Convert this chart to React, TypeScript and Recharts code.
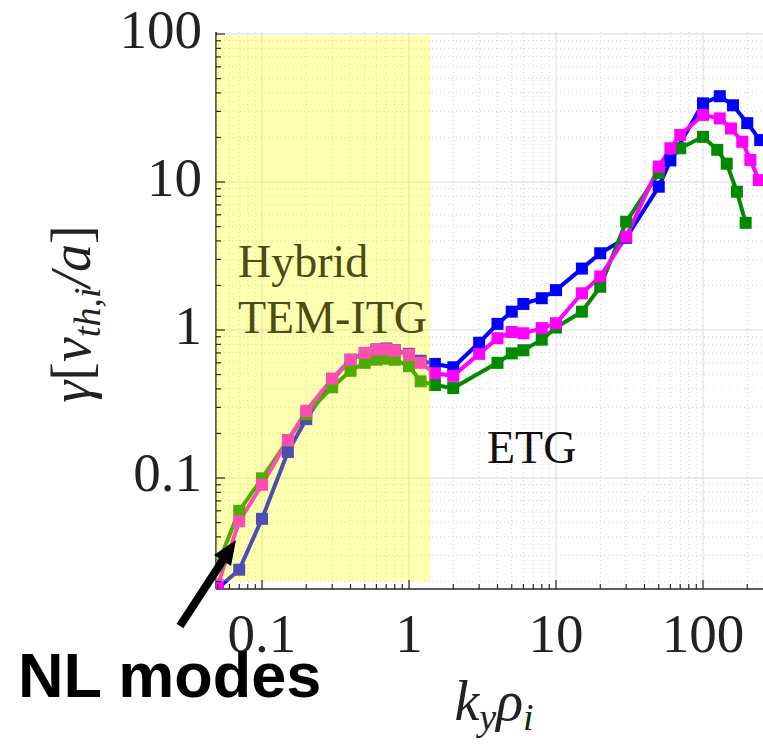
import React from 'react';
import { LineChart, Line, XAxis, YAxis, ReferenceArea, ReferenceLine } from 'recharts';

// growth rate spectra, three cases (blue / magenta / green)
const kBlue = [0.05, 0.07, 0.1, 0.15, 0.2, 0.3, 0.4, 0.5, 0.6, 0.7, 0.8, 1.0, 1.2, 1.5, 2, 3, 4, 5, 6, 8, 10, 15, 20, 30, 50, 60, 100, 130, 160, 200, 245];
const gammaBlue = [0.018, 0.024, 0.053, 0.15, 0.25, 0.46, 0.63, 0.7, 0.74, 0.75, 0.73, 0.69, 0.62, 0.59, 0.56, 0.82, 1.1, 1.33, 1.5, 1.64, 1.86, 2.6, 3.3, 4.2, 9.3, 14, 34, 38, 33, 25, 19.2];

const kPink = [0.05, 0.07, 0.1, 0.15, 0.2, 0.3, 0.4, 0.5, 0.6, 0.7, 0.8, 1.0, 1.2, 1.5, 2, 3, 4, 5, 6, 8, 10, 15, 20, 30, 50, 60, 70, 100, 130, 155, 185, 210, 240];
const gammaPink = [0.019, 0.051, 0.09, 0.18, 0.284, 0.47, 0.63, 0.7, 0.735, 0.74, 0.725, 0.68, 0.6, 0.51, 0.49, 0.69, 0.88, 0.97, 0.95, 1.03, 1.11, 1.77, 2.3, 4.27, 12.7, 16.9, 20.8, 28.4, 26.9, 23, 18.7, 14.1, 10.3];

const kGreen = [0.05, 0.07, 0.1, 0.15, 0.2, 0.3, 0.4, 0.5, 0.6, 0.7, 0.8, 1.0, 1.2, 1.5, 2, 4, 5, 6, 8, 10, 15, 20, 30, 50, 70, 100, 125, 145, 170, 195];
const gammaGreen = [0.026, 0.06, 0.0995, 0.18, 0.27, 0.41, 0.53, 0.6, 0.63, 0.64, 0.63, 0.57, 0.45, 0.425, 0.405, 0.6, 0.695, 0.73, 0.86, 1.04, 1.33, 1.96, 5.39, 11.5, 16.9, 20.2, 16.5, 13.3, 8.6, 5.3];

const decades = [0.01, 0.1, 1, 10, 100];
const xDomain = [0.04865, 334];
const yDomain = [0.01778, 103.2];
const hybridRange = [0.04865, 1.4];
const hybridGamma = [0.02, 97];

const toRows = (ks: number[], gs: number[]) => ks.map((k, i) => ({ k, g: gs[i] }));
const blueRows = toRows(kBlue, gammaBlue);
const pinkRows = toRows(kPink, gammaPink);
const greenRows = toRows(kGreen, gammaGreen);

const logTicks = (lo: number, hi: number) => {
  const out: number[] = [];
  decades.forEach((d) => {
    for (let m = 1; m <= 9; m++) {
      const v = +(d * m).toPrecision(6);
      if (v >= lo && v <= hi) out.push(v);
    }
  });
  return out;
};
const xTicks = logTicks(xDomain[0], xDomain[1]);
const yTicks = logTicks(yDomain[0], yDomain[1]);

const isDecade = (v: number) => Math.abs(Math.log10(v) - Math.round(Math.log10(v))) < 1e-9;

const AXIS = '#262626';
const SERIF = '"Liberation Serif", "Times New Roman", serif';

const BottomTick = (props: any) => {
  const { x, y, payload } = props;
  const major = isDecade(payload.value);
  return (
    <g>
      <line x1={x} x2={x} y1={y} y2={y - (major ? 9 : 5)} stroke={AXIS} strokeWidth={1.2} />
      {major && (
        <text x={x} y={y + 63} textAnchor="middle" fontFamily={SERIF} fontSize={55} fill="#222">
          {String(payload.value)}
        </text>
      )}
    </g>
  );
};

const TopTick = (props: any) => {
  const { x, y, payload } = props;
  const major = isDecade(payload.value);
  return <line x1={x} x2={x} y1={y} y2={y + (major ? 9 : 5)} stroke={AXIS} strokeWidth={1.2} />;
};

const LeftTick = (props: any) => {
  const { x, y, payload } = props;
  const major = isDecade(payload.value);
  return (
    <g>
      <line x1={x} x2={x + (major ? 9 : 5)} y1={y} y2={y} stroke={AXIS} strokeWidth={1.2} />
      {major && (
        <text x={x - 14} y={y + 13.5} textAnchor="end" fontFamily={SERIF} fontSize={55} fill="#222">
          {String(payload.value)}
        </text>
      )}
    </g>
  );
};

const squareDot = (color: string) => (p: any) => (
  <rect key={`${color}-${p.index}`} x={p.cx - 6} y={p.cy - 6} width={12} height={12} fill={color} />
);

export default function App() {
  return (
    <div style={{ position: 'fixed', left: 0, top: 0, width: 763, height: 746, overflow: 'hidden', background: '#fff' }}>
      <div style={{ position: 'absolute', left: 0, top: 0 }}>
        <LineChart width={800} height={746} margin={{ top: 32, right: 20, left: 0, bottom: 0 }}>
          {xTicks.map((v) => (
            <ReferenceLine
              key={`gx${v}`}
              x={v}
              stroke={isDecade(v) ? '#d9d9d9' : '#d4d4d4'}
              strokeWidth={1}
              strokeDasharray={isDecade(v) ? undefined : '1 3'}
            />
          ))}
          {yTicks.map((v) => (
            <ReferenceLine
              key={`gy${v}`}
              y={v}
              stroke={isDecade(v) ? '#d9d9d9' : '#d4d4d4'}
              strokeWidth={1}
              strokeDasharray={isDecade(v) ? undefined : '1 3'}
            />
          ))}
          <XAxis
            dataKey="k"
            type="number"
            scale="log"
            domain={xDomain}
            allowDataOverflow
            ticks={xTicks}
            interval={0}
            height={157}
            tickSize={0}
            tickMargin={0}
            tickLine={false}
            tick={<BottomTick />}
            axisLine={{ stroke: AXIS, strokeWidth: 1.5 }}
          />
          <XAxis
            xAxisId="top"
            orientation="top"
            dataKey="k"
            type="number"
            scale="log"
            domain={xDomain}
            allowDataOverflow
            ticks={xTicks}
            interval={0}
            height={0}
            tickSize={0}
            tickMargin={0}
            tickLine={false}
            tick={<TopTick />}
            axisLine={{ stroke: AXIS, strokeWidth: 1.5 }}
          />
          <YAxis
            type="number"
            scale="log"
            domain={yDomain}
            allowDataOverflow
            ticks={yTicks}
            interval={0}
            width={216}
            tickSize={0}
            tickMargin={0}
            tickLine={false}
            tick={<LeftTick />}
            axisLine={{ stroke: AXIS, strokeWidth: 1.5 }}
          />
          <Line
            data={blueRows}
            dataKey="g"
            type="linear"
            stroke="#0000ff"
            strokeWidth={4}
            dot={squareDot('#0000ff')}
            activeDot={false}
            isAnimationActive={false}
          />
          <Line
            data={greenRows}
            dataKey="g"
            type="linear"
            stroke="#008a00"
            strokeWidth={4}
            dot={squareDot('#008a00')}
            activeDot={false}
            isAnimationActive={false}
          />
          <Line
            data={pinkRows}
            dataKey="g"
            type="linear"
            stroke="#ff00ff"
            strokeWidth={4}
            dot={squareDot('#ff00ff')}
            activeDot={false}
            isAnimationActive={false}
          />
          <ReferenceArea
            x1={hybridRange[0]}
            x2={hybridRange[1]}
            y1={hybridGamma[0]}
            y2={hybridGamma[1]}
            fill="#ffff00"
            fillOpacity={0.3}
            stroke="none"
            zIndex={700}
          />
        </LineChart>
      </div>
      <svg width={763} height={746} style={{ position: 'absolute', left: 0, top: 0, pointerEvents: 'none' }}>
        <text x={238} y={277} fontFamily={SERIF} fontSize={46} fill="#4b4b12">Hybrid</text>
        <text x={238} y={333} fontFamily={SERIF} fontSize={46} fill="#4b4b12">TEM-ITG</text>
        <text x={487} y={463} fontFamily={SERIF} fontSize={46} fill="#111">ETG</text>
        <text
          transform="translate(90,314) rotate(-90)"
          textAnchor="middle"
          fontFamily={SERIF}
          fontSize={56}
          fontStyle="italic"
          fill="#222"
        >
          γ<tspan fontStyle="normal">[</tspan>v<tspan fontSize={38} dy={10}>th,i</tspan>
          <tspan dy={-10}>/a</tspan>
          <tspan fontStyle="normal">]</tspan>
        </text>
        <text x={494} y={720} textAnchor="middle" fontFamily={SERIF} fontSize={56} fontStyle="italic" fill="#222">
          k<tspan fontSize={38} dy={10}>y</tspan>
          <tspan dy={-10}>ρ</tspan>
          <tspan fontSize={38} dy={10}>i</tspan>
        </text>
        <line x1={180} y1={626} x2={223} y2={560} stroke="#000" strokeWidth={8} />
        <polygon points="236,540 231,566 214,555" fill="#000" />
        <text x={18} y={697} fontFamily='"Liberation Sans", Arial, sans-serif' fontWeight="bold" fontSize={63} fill="#000">
          NL modes
        </text>
      </svg>
    </div>
  );
}
